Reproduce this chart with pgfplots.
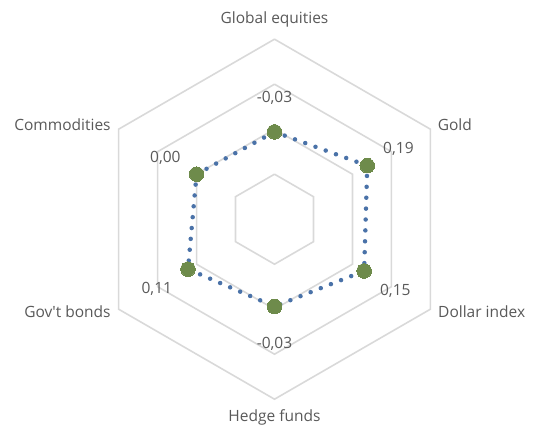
\documentclass[border=0pt]{standalone}
\usepackage{pgfplots}
\usepackage{pgfplotstable}
\pgfplotsset{compat=1.18}
\usepackage{fontspec}
\setmainfont{Open Sans}
\definecolor{gridc}{HTML}{D9D9D9}
\definecolor{linec}{HTML}{4A72A8}
\definecolor{markc}{HTML}{6E8B4B}
\definecolor{txt}{HTML}{595959}

\pgfplotstableread{
a v lbl
90 -0.03 -0,03
30 0.19 0,19
-30 0.15 0,15
-90 -0.03 -0,03
-150 0.11 0,11
150 0.00 0,00
90 -0.03 -0,03
}\radar

\pgfplotstableread{
a r
90 1
30 1
-30 1
-90 1
-150 1
150 1
90 1
}\hexa

\begin{document}
\begin{tikzpicture}
\useasboundingbox (0,0) rectangle (534pt,427pt);
\begin{axis}[
  at={(0,0)}, anchor=south west,
  scale only axis, width=534pt, height=427pt,
  xmin=-3.05, xmax=2.8833, ymin=-2.3089, ymax=2.4356,
  hide axis, clip=false,
  font=\fontsize{15.5}{18}\selectfont,
]
\pgfplotsinvokeforeach{0.5,1,1.5,2}{
  \addplot[gridc, line width=1.6pt, line join=miter, mark=none]
    table[x expr={#1*\thisrow{r}*cos(\thisrow{a})}, y expr={#1*\thisrow{r}*sin(\thisrow{a})}] {\hexa};
}
\addplot[linec, line width=4.5pt, line cap=round, dash pattern=on 0pt off 10.9pt, mark=none]
  table[x expr={(\thisrow{v}+1)*cos(\thisrow{a})}, y expr={(\thisrow{v}+1)*sin(\thisrow{a})}] {\radar};
\addplot[markc, only marks, mark=*, mark size=7.3pt, mark options={draw=markc, fill=markc, line width=0pt}, skip coords between index={6}{7}]
  table[x expr={(\thisrow{v}+1)*cos(\thisrow{a})}, y expr={(\thisrow{v}+1)*sin(\thisrow{a})}] {\radar};
\addplot[draw=none, mark=none, skip coords between index={6}{7},
  nodes near coords, point meta=explicit symbolic,
  every node near coord/.append style={anchor=center, text=txt, inner sep=0pt, yshift=-1.5pt}]
  table[x expr={(\thisrow{v}+1.4)*cos(\thisrow{a})}, y expr={(\thisrow{v}+1.4)*sin(\thisrow{a})}, meta=lbl] {\radar};
\begin{scope}[every node/.style={text=txt, inner sep=0pt}]
\node[anchor=center] at (axis cs:0,2.22) {Global equities};
\node[anchor=west] at (axis cs:1.812,1.047) {Gold};
\node[anchor=west] at (axis cs:1.817,-1.031) {Dollar index};
\node[anchor=center] at (axis cs:0,-2.2) {Hedge funds};
\node[anchor=east] at (axis cs:-1.819,-1.031) {Gov\textquotesingle t bonds};
\node[anchor=east] at (axis cs:-1.819,1.047) {Commodities};
\end{scope}
\end{axis}
\end{tikzpicture}
\end{document}
